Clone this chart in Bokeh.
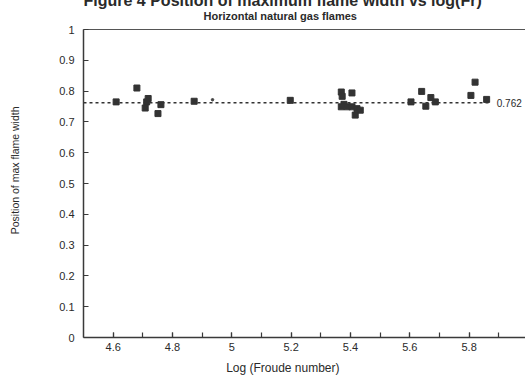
from bokeh.plotting import figure
from bokeh.models import Label, FixedTicker, CustomJSTickFormatter, LinearAxis, Range1d, Title
from bokeh.embed import file_html
from bokeh.resources import INLINE

# ---- data ----
log_fr = [4.610, 4.680, 4.718, 4.713, 4.708, 4.761, 4.751, 4.873, 5.197,
          5.369, 5.372, 5.405, 5.378, 5.369, 5.389, 5.405, 5.422, 5.433, 5.416,
          5.604, 5.640, 5.671, 5.654, 5.686, 5.820, 5.806, 5.859]
pos_max_width = [0.765, 0.810, 0.776, 0.765, 0.745, 0.756, 0.727, 0.767, 0.770,
                 0.797, 0.783, 0.794, 0.757, 0.749, 0.749, 0.749, 0.743, 0.738, 0.722,
                 0.765, 0.799, 0.779, 0.751, 0.765, 0.829, 0.786, 0.773]
small_dot_x = [4.935]
small_dot_y = [0.772]
mean_value = 0.762
mean_line_x = [4.5, 5.875]
x_major_ticks = [4.6, 4.8, 5.0, 5.2, 5.4, 5.6, 5.8]
x_minor_ticks = [4.6, 4.7, 4.8, 4.9, 5.0, 5.1, 5.2, 5.3, 5.4, 5.5, 5.6, 5.7, 5.8, 5.9]
y_ticks = [0, 0.1, 0.2, 0.3, 0.4, 0.5, 0.6, 0.7, 0.8, 0.9, 1.0]

title_text = "Figure 4 Position of maximum flame width vs log(Fr)"
subtitle_text = "Horizontal natural gas flames"
x_label_text = "Log (Froude number)"
y_label_text = "Position of max flame width"

FONT = "Liberation Sans"
INK = "#2a2a2a"
NBSP = "\u00a0"

p = figure(width=525, height=377, x_range=Range1d(4.5, 5.99), y_range=Range1d(0, 1),
           output_backend="svg", toolbar_location=None,
           min_border_left=83, min_border_right=0, min_border_top=29, min_border_bottom=39)
p.xgrid.visible = False
p.ygrid.visible = False
p.outline_line_color = None
p.background_fill_color = "white"
p.border_fill_color = "white"

fmt = CustomJSTickFormatter(code="return String(Math.round(tick*10)/10)")

xa = p.xaxis[0]
xa.ticker = FixedTicker(ticks=x_major_ticks, minor_ticks=x_minor_ticks)
xa.formatter = fmt
ya = p.yaxis[0]
ya.ticker = FixedTicker(ticks=y_ticks, minor_ticks=[])
ya.formatter = fmt
for ax in (xa, ya):
    ax.axis_line_color = "#3a3a3a"
    ax.axis_line_width = 1.5
    ax.major_tick_in = 5
    ax.major_tick_out = 0
    ax.minor_tick_in = 5
    ax.minor_tick_out = 0
    ax.major_tick_line_color = "#3a3a3a"
    ax.minor_tick_line_color = "#3a3a3a"
    ax.major_tick_line_width = 1.2
    ax.minor_tick_line_width = 1.2
    ax.major_label_text_font = FONT
    ax.major_label_text_font_size = "11px"
    ax.major_label_text_color = INK
    ax.axis_label_text_font = FONT
    ax.axis_label_text_font_style = "normal"
    ax.axis_label_text_color = INK
ya.minor_tick_line_color = None
xa.major_label_standoff = 5
ya.major_label_standoff = 9
# non-breaking spaces shift the centred labels to where the reference has them
xa.axis_label = x_label_text + NBSP * 13
xa.axis_label_text_font_size = "12px"
xa.axis_label_standoff = 7
ya.axis_label = NBSP * 9 + y_label_text
ya.axis_label_text_font_size = "10.5px"
ya.axis_label_standoff = 35

top = LinearAxis(ticker=FixedTicker(ticks=[]), axis_line_color="#555555", axis_line_width=1.2,
                 major_tick_line_color=None, minor_tick_line_color=None,
                 major_tick_in=0, major_tick_out=0, minor_tick_in=0, minor_tick_out=0,
                 major_label_standoff=0, major_label_text_font_size="0px")
p.add_layout(top, "above")

sub = Title(text=subtitle_text, align="left", offset=120, vertical_align="middle",
            standoff=13.7, text_font=FONT, text_font_size="11px", text_font_style="bold",
            text_color=INK)
p.add_layout(sub, "above")
main = Title(text=title_text, align="left", offset=0, vertical_align="top",
             standoff=-19, text_font=FONT, text_font_size="16px", text_font_style="bold",
             text_color=INK)
p.add_layout(main, "above")

p.line(mean_line_x, [mean_value] * len(mean_line_x), line_color="#333333",
       line_width=1.4, line_dash="3 3")
p.scatter(log_fr, pos_max_width, marker="square", size=6, fill_color="#333333",
          line_color="#333333")
p.scatter(small_dot_x, small_dot_y, marker="circle", size=2.5, fill_color="#444444",
          line_color="#444444")

p.add_layout(Label(x=5.893, y=mean_value, text=f"{mean_value:.3f}", text_font=FONT,
                   text_font_size="10px", text_color=INK, text_baseline="middle",
                   text_align="left"))

open("out.html", "w").write(file_html(p, INLINE))
